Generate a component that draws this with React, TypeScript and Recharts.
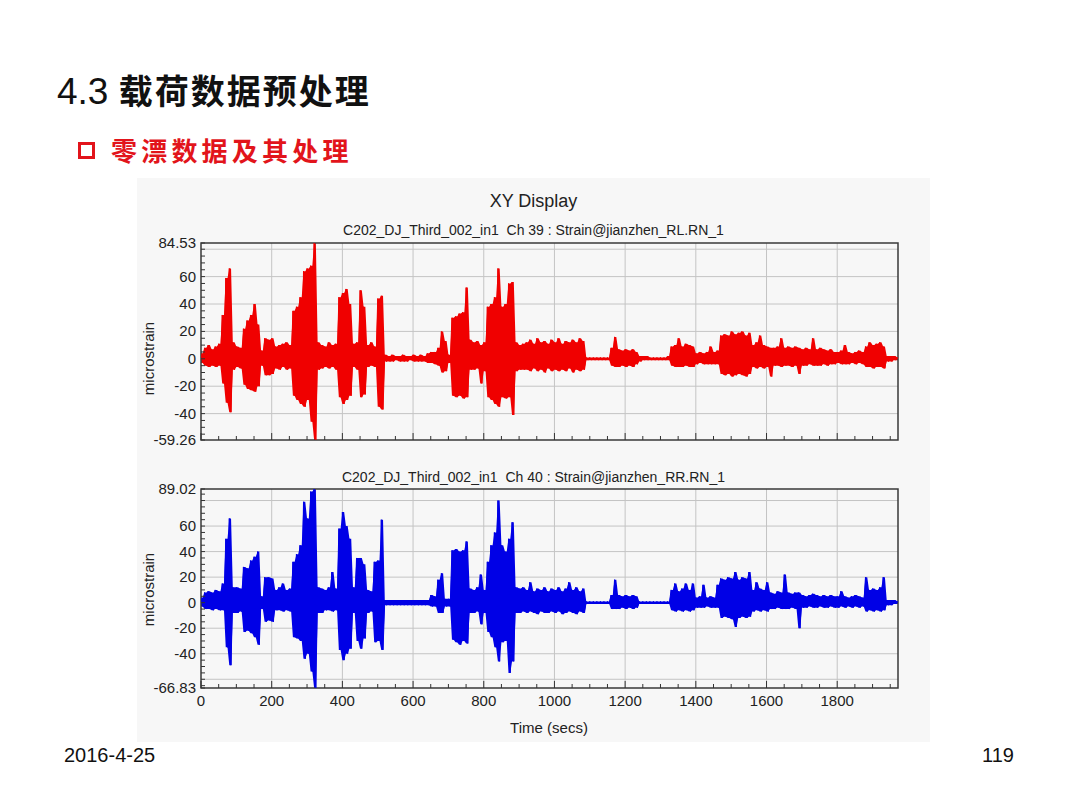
import { Area, CartesianGrid, ComposedChart, Line, ReferenceArea, XAxis, YAxis } from 'recharts';

// time bins (secs), each bin carries the max and min strain seen in it
const TIME_S = [
  0, 10, 20, 30, 40, 50, 60, 70, 80, 90,
  100, 110, 120, 130, 140, 150, 160, 170, 180, 190,
  200, 210, 220, 230, 240, 250, 260, 270, 280, 290,
  300, 310, 320, 330, 340, 350, 360, 370, 380, 390,
  400, 410, 420, 430, 440, 450, 460, 470, 480, 490,
  500, 510, 520, 530, 540, 550, 560, 570, 580, 590,
  600, 610, 620, 630, 640, 650, 660, 670, 680, 690,
  700, 710, 720, 730, 740, 750, 760, 770, 780, 790,
  800, 810, 820, 830, 840, 850, 860, 870, 880, 890,
  900, 910, 920, 930, 940, 950, 960, 970, 980, 990,
  1000, 1010, 1020, 1030, 1040, 1050, 1060, 1070, 1080, 1090,
  1100, 1110, 1120, 1130, 1140, 1150, 1160, 1170, 1180, 1190,
  1200, 1210, 1220, 1230, 1240, 1250, 1260, 1270, 1280, 1290,
  1300, 1310, 1320, 1330, 1340, 1350, 1360, 1370, 1380, 1390,
  1400, 1410, 1420, 1430, 1440, 1450, 1460, 1470, 1480, 1490,
  1500, 1510, 1520, 1530, 1540, 1550, 1560, 1570, 1580, 1590,
  1600, 1610, 1620, 1630, 1640, 1650, 1660, 1670, 1680, 1690,
  1700, 1710, 1720, 1730, 1740, 1750, 1760, 1770, 1780, 1790,
  1800, 1810, 1820, 1830, 1840, 1850, 1860, 1870, 1880, 1890,
  1900, 1910, 1920, 1930, 1940, 1950, 1960, 1970,
];

// Ch 39 : Strain@jianzhen_RL.RN_1
const RL_MAX = [
  4, 8, 10, 7, 9, 11, 32, 59, 66, 12,
  9, 8, 22, 28, 32, 40, 25, 6, 15, 14,
  15, 9, 10, 11, 12, 10, 35, 38, 45, 64,
  66, 68, 84.5, 12, 10, 9, 12, 10, 11, 45,
  48, 51, 40, 11, 12, 50, 38, 10, 12, 9,
  44, 46, 3, 2, 3, 2, 2, 3, 2, 2,
  3, 2, 3, 2, 4, 5, 5, 8, 20, 13,
  3, 30, 31, 33, 34, 52, 14, 12, 13, 10,
  12, 38, 40, 45, 66, 38, 40, 55, 56, 12,
  10, 11, 12, 14, 11, 15, 12, 13, 11, 14,
  12, 15, 11, 13, 12, 14, 12, 15, 13, 1,
  1, 1, 1, 1, 1, 1, 8, 16, 7, 6,
  7, 6, 7, 5, 2, 2, 2, 1, 1, 1,
  1, 1, 2, 9, 10, 15, 9, 11, 10, 9,
  4, 5, 4, 5, 9, 5, 6, 17, 18, 17,
  20, 18, 19, 20, 17, 19, 10, 12, 17, 10,
  9, 8, 8, 9, 15, 8, 9, 8, 9, 8,
  7, 8, 7, 15, 7, 8, 7, 6, 7, 5,
  5, 6, 10, 5, 4, 5, 6, 5, 9, 12,
  10, 11, 12, 9, 2, 2, 2, 1,
];
const RL_MIN = [
  -3, -5, -6, -5, -6, -5, -18, -32, -39, -8,
  -6, -7, -19, -22, -23, -24, -20, -5, -12, -12,
  -11, -7, -8, -6, -8, -7, -27, -30, -33, -35,
  -30, -46, -59.2, -8, -7, -6, -7, -6, -8, -28,
  -33, -30, -27, -6, -8, -28, -26, -6, -5, -6,
  -35, -37, -2, -2, -2, -1, -2, -2, -2, -1,
  -2, -2, -2, -2, -3, -3, -4, -5, -10, -9,
  -3, -27, -28, -27, -29, -28, -8, -8, -7, -18,
  -9, -28, -30, -33, -35, -28, -29, -28, -41, -9,
  -8, -8, -8, -9, -7, -9, -8, -10, -7, -9,
  -8, -9, -8, -9, -7, -10, -8, -9, -8, -1,
  -1, -1, -1, -1, -1, -1, -5, -6, -6, -5,
  -6, -5, -6, -4, -2, -1, -1, -1, -1, -1,
  -1, -1, -1, -5, -6, -6, -6, -5, -6, -6,
  -4, -3, -4, -4, -4, -4, -4, -11, -12, -11,
  -13, -12, -11, -12, -13, -11, -6, -7, -6, -7,
  -6, -13, -5, -5, -6, -5, -5, -6, -5, -11,
  -5, -5, -4, -5, -5, -5, -4, -5, -4, -4,
  -3, -4, -4, -4, -3, -4, -3, -4, -6, -6,
  -7, -6, -6, -7, -2, -2, -1, -1,
];

// Ch 40 : Strain@jianzhen_RR.RN_1
const RR_MAX = [
  4, 8, 9, 8, 10, 9, 15, 50, 66, 12,
  12, 11, 28, 27, 33, 36, 40, 5, 20, 20,
  19, 10, 12, 15, 10, 11, 32, 38, 45, 79,
  66, 87, 89, 12, 11, 10, 12, 24, 11, 58,
  71, 60, 50, 12, 35, 35, 30, 10, 9, 32,
  33, 65, 2, 2, 2, 2, 2, 2, 2, 2,
  2, 2, 2, 2, 2, 6, 5, 18, 23, 3,
  3, 41, 42, 40, 41, 48, 11, 10, 12, 22,
  10, 32, 45, 55, 80, 45, 40, 50, 63, 12,
  11, 12, 10, 16, 9, 11, 10, 12, 9, 11,
  10, 12, 9, 11, 16, 10, 12, 9, 11, 1,
  1, 1, 1, 1, 1, 1, 6, 18, 6, 5,
  6, 5, 6, 5, 1, 1, 1, 1, 1, 1,
  1, 1, 1, 10, 15, 9, 11, 15, 10, 15,
  4, 5, 14, 4, 5, 4, 14, 19, 18, 20,
  19, 24, 18, 20, 19, 24, 10, 16, 11, 10,
  16, 8, 7, 9, 8, 22, 8, 7, 8, 8,
  6, 5, 6, 7, 6, 5, 6, 5, 6, 5,
  5, 9, 5, 4, 5, 6, 5, 4, 20, 10,
  11, 10, 12, 20, 2, 2, 2, 1,
];
const RR_MIN = [
  -3, -5, -5, -6, -5, -6, -6, -35, -49, -8,
  -8, -7, -23, -22, -24, -27, -33, -5, -15, -14,
  -15, -6, -6, -7, -6, -7, -27, -28, -30, -44,
  -40, -54, -66.8, -8, -8, -6, -6, -7, -6, -37,
  -45, -40, -36, -8, -30, -36, -28, -8, -7, -31,
  -30, -37, -2, -2, -2, -2, -2, -2, -2, -2,
  -2, -2, -2, -2, -2, -3, -3, -8, -8, -3,
  -3, -29, -31, -33, -30, -32, -8, -8, -7, -17,
  -8, -23, -27, -35, -46, -31, -30, -55, -46, -8,
  -8, -7, -8, -7, -8, -9, -7, -8, -8, -7,
  -8, -7, -9, -8, -7, -8, -9, -7, -8, -1,
  -1, -1, -1, -1, -1, -1, -5, -5, -5, -4,
  -5, -4, -5, -4, -1, -1, -1, -1, -1, -1,
  -1, -1, -1, -6, -7, -6, -7, -6, -7, -6,
  -4, -4, -4, -3, -4, -4, -4, -12, -11, -12,
  -13, -19, -12, -11, -12, -11, -7, -6, -7, -6,
  -7, -5, -5, -4, -5, -5, -5, -4, -5, -20,
  -4, -4, -3, -4, -4, -3, -4, -4, -3, -4,
  -4, -3, -4, -3, -4, -3, -4, -3, -7, -6,
  -7, -6, -7, -6, -2, -2, -1, -1,
];

const X_DOMAIN = [0, 1972];
const X_TICKS = [
  0, 50, 100, 150, 200, 250, 300, 350, 400, 450, 500, 550, 600, 650, 700, 750,
  800, 850, 900, 950, 1000, 1050, 1100, 1150, 1200, 1250, 1300, 1350, 1400,
  1450, 1500, 1550, 1600, 1650, 1700, 1750, 1800, 1850, 1900, 1950,
];
const X_MAJOR = [0, 200, 400, 600, 800, 1000, 1200, 1400, 1600, 1800];
const X_GRID = [200, 400, 600, 800, 1000, 1200, 1400, 1600, 1800];

const RL_DOMAIN = [-59.26, 84.53];
const RL_LABELS = [-59.26, -40, -20, 0, 20, 40, 60, 84.53];
const RL_GRID = [-40, -20, 0, 20, 40, 60, 80];
const RL_TICKS = [
  -59.26, -55, -50, -45, -40, -35, -30, -25, -20, -15, -10, -5, 0, 5, 10, 15,
  20, 25, 30, 35, 40, 45, 50, 55, 60, 65, 70, 75, 80, 84.53,
];

const RR_DOMAIN = [-66.83, 89.02];
const RR_LABELS = [-66.83, -40, -20, 0, 20, 40, 60, 89.02];
const RR_GRID = [-60, -40, -20, 0, 20, 40, 60, 80];
const RR_TICKS = [
  -66.83, -65, -60, -55, -50, -45, -40, -35, -30, -25, -20, -15, -10, -5, 0, 5,
  10, 15, 20, 25, 30, 35, 40, 45, 50, 55, 60, 65, 70, 75, 80, 85, 89.02,
];

const TICK_FONT = '"Liberation Sans", Arial, sans-serif';

// max at the bin start, min half a bin later -> dense zig-zag like the raw trace;
// band = the bin's min..max range, drawn as a solid core underneath
function envelope(maxs: number[], mins: number[]) {
  return TIME_S.flatMap((t, i) => [
    { t, v: maxs[i], band: [mins[i], maxs[i]] },
    { t: t + 5, v: mins[i], band: [mins[i], maxs[i]] },
  ]);
}

function YTick(props: any) {
  const { x, y, payload, labels } = props;
  const labelled = labels.includes(payload.value);
  return (
    <g>
      <line x1={x} x2={x + 4} y1={y} y2={y} stroke="#333" />
      {labelled && (
        <text x={x - 5} y={y} dy={5} textAnchor="end" fontSize={15} fill="#222" fontFamily={TICK_FONT}>
          {String(payload.value)}
        </text>
      )}
    </g>
  );
}

function XTick(props: any) {
  const { x, y, payload, showLabels } = props;
  const major = X_MAJOR.includes(payload.value);
  return (
    <g>
      <line x1={x} x2={x} y1={y} y2={y - (major ? 7 : 4)} stroke="#333" />
      {showLabels && major && (
        <text x={x} y={y + 18} textAnchor="middle" fontSize={15} fill="#222" fontFamily={TICK_FONT}>
          {String(payload.value)}
        </text>
      )}
    </g>
  );
}

interface StrainPanelProps {
  data: { t: number; v: number; band: number[] }[];
  color: string;
  domain: number[];
  ticks: number[];
  labels: number[];
  grid: number[];
  width: number;
  height: number;
  bottomAxis: boolean;
}

function StrainPanel({ data, color, domain, ticks, labels, grid, width, height, bottomAxis }: StrainPanelProps) {
  return (
    <ComposedChart
      width={width}
      height={height}
      data={data}
      margin={{ top: 8, right: 32, left: 4, bottom: bottomAxis ? 0 : 10 }}
    >
      <CartesianGrid stroke="#c4c4c4" horizontalValues={grid} verticalValues={X_GRID} />
      <XAxis
        dataKey="t"
        type="number"
        domain={X_DOMAIN}
        ticks={X_TICKS}
        interval={0}
        allowDataOverflow
        axisLine={false}
        tickLine={false}
        tickSize={0}
        tickMargin={0}
        height={bottomAxis ? 30 : 4}
        tick={(p: any) => <XTick {...p} showLabels={bottomAxis} />}
      />
      <YAxis
        type="number"
        domain={domain}
        ticks={ticks}
        interval={0}
        allowDataOverflow
        axisLine={false}
        tickLine={false}
        tickSize={0}
        tickMargin={0}
        width={60}
        tick={(p: any) => <YTick {...p} labels={labels} />}
      />
      <Area
        dataKey="band"
        type="linear"
        stroke="none"
        fill={color}
        fillOpacity={1}
        dot={false}
        activeDot={false}
        isAnimationActive={false}
      />
      <Line
        dataKey="v"
        type="linear"
        stroke={color}
        strokeWidth={1}
        dot={false}
        activeDot={false}
        isAnimationActive={false}
      />
      <ReferenceArea
        x1={X_DOMAIN[0]}
        x2={X_DOMAIN[1]}
        y1={domain[0]}
        y2={domain[1]}
        fill="none"
        stroke="#3a3a3a"
        strokeWidth={1.5}
        ifOverflow="visible"
      />
    </ComposedChart>
  );
}

const chartText: React.CSSProperties = {
  position: 'absolute',
  fontFamily: TICK_FONT,
  color: '#222',
  whiteSpace: 'nowrap',
};

export default function App() {
  const rl = envelope(RL_MAX, RL_MIN);
  const rr = envelope(RR_MAX, RR_MIN);
  return (
    <div
      style={{
        position: 'absolute',
        left: 0,
        top: 0,
        width: 1080,
        height: 810,
        background: '#ffffff',
        overflow: 'hidden',
      }}
    >
      {/* slide heading */}
      <div style={{ position: 'absolute', left: 57, top: 71, fontSize: 34, lineHeight: '38px', color: '#111', whiteSpace: 'nowrap' }}>
        <span style={{ fontFamily: TICK_FONT, fontSize: 37 }}>4.3 </span>
        <span style={{ fontFamily: '"Noto Sans CJK SC", sans-serif', fontWeight: 700, letterSpacing: 2 }}>载荷数据预处理</span>
      </div>
      <div style={{ position: 'absolute', left: 78, top: 142, width: 11, height: 11, border: '3px solid #e2141b' }} />
      <div
        style={{
          position: 'absolute',
          left: 111,
          top: 135,
          fontSize: 26,
          lineHeight: '30px',
          letterSpacing: 4.2,
          fontWeight: 700,
          color: '#e2141b',
          fontFamily: '"Noto Sans CJK SC", sans-serif',
          whiteSpace: 'nowrap',
        }}
      >
        零漂数据及其处理
      </div>

      {/* XY Display panel */}
      <div style={{ position: 'absolute', left: 137, top: 178, width: 793, height: 564, background: '#f7f7f7' }} />
      <div style={{ ...chartText, left: 137, width: 793, top: 191, fontSize: 18, textAlign: 'center' }}>XY Display</div>
      <div style={{ ...chartText, left: 137, width: 793, top: 222, fontSize: 14, textAlign: 'center' }}>
        C202_DJ_Third_002_in1&nbsp;&nbsp;Ch 39 : Strain@jianzhen_RL.RN_1
      </div>
      <div style={{ ...chartText, left: 137, width: 793, top: 469, fontSize: 14, textAlign: 'center' }}>
        C202_DJ_Third_002_in1&nbsp;&nbsp;Ch 40 : Strain@jianzhen_RR.RN_1
      </div>
      <div style={{ ...chartText, left: 103, top: 350, width: 90, fontSize: 15, textAlign: 'center', transform: 'rotate(-90deg)' }}>
        microstrain
      </div>
      <div style={{ ...chartText, left: 103, top: 581, width: 90, fontSize: 15, textAlign: 'center', transform: 'rotate(-90deg)' }}>
        microstrain
      </div>

      <div style={{ position: 'absolute', left: 137, top: 235 }}>
        <StrainPanel
          data={rl}
          color="#f00000"
          domain={RL_DOMAIN}
          ticks={RL_TICKS}
          labels={RL_LABELS}
          grid={RL_GRID}
          width={793}
          height={219}
          bottomAxis={false}
        />
      </div>
      <div style={{ position: 'absolute', left: 137, top: 481 }}>
        <StrainPanel
          data={rr}
          color="#0000e6"
          domain={RR_DOMAIN}
          ticks={RR_TICKS}
          labels={RR_LABELS}
          grid={RR_GRID}
          width={793}
          height={237}
          bottomAxis
        />
      </div>
      <div style={{ ...chartText, left: 449, width: 200, top: 719, fontSize: 15, textAlign: 'center' }}>Time (secs)</div>

      {/* footer */}
      <div style={{ ...chartText, left: 64, top: 744, fontSize: 20, color: '#111' }}>2016-4-25</div>
      <div style={{ ...chartText, left: 900, width: 114, top: 744, fontSize: 20, color: '#111', textAlign: 'right' }}>119</div>
    </div>
  );
}
